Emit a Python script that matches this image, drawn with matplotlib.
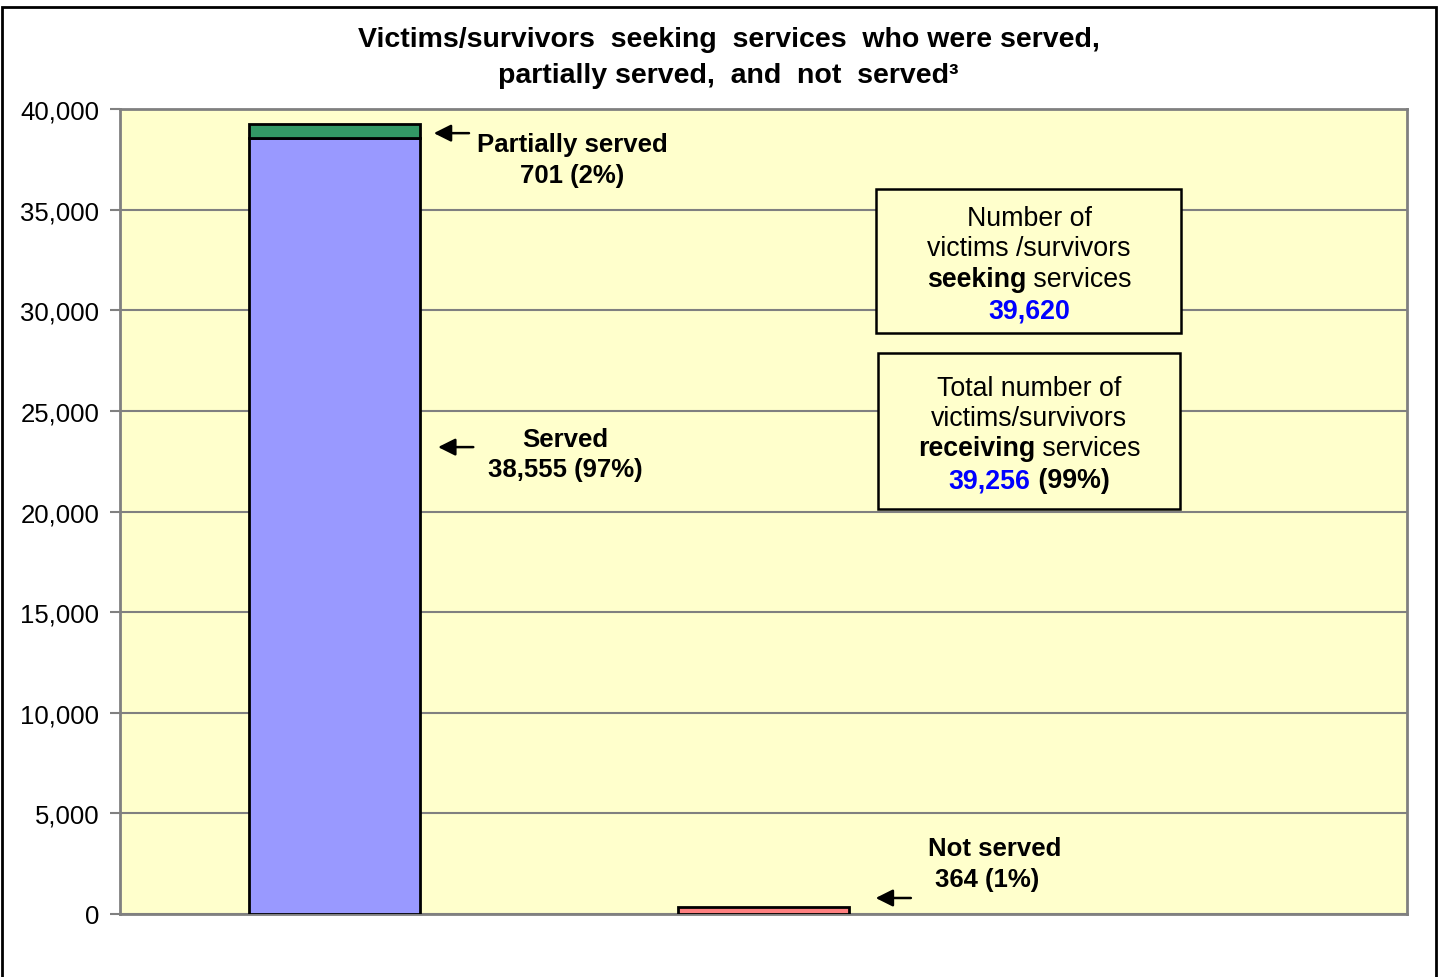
import matplotlib
matplotlib.use("Agg")
import matplotlib.pyplot as plt
from matplotlib.patches import Rectangle

plt.rcParams['font.family'] = ['Liberation Sans', 'DejaVu Sans']

# data
categories = ["Seeking", "Not served", ""]
served = [38555, 0, 0]
partially = [701, 0, 0]
not_served = [0, 364, 0]
seeking_total = 39620
receiving_total = 39256
yticks = list(range(0, 40001, 5000))

FS = 18.5
BOX_FS = 19.3
TITLE_FS = 20.5
fig = plt.figure(figsize=(14.42, 9.78), dpi=100)
ax = fig.add_axes([120 / 1442, 1 - 915 / 978, 1287 / 1442, 805 / 978])
ax.set_facecolor('#FFFFCC')

x = [0, 1, 2]
# skip the empty third slot so no zero-height bar edges get drawn
ax.bar(x[:1], served[:1], width=0.4, color='#9999FF', edgecolor='black', linewidth=2, zorder=3)
ax.bar(x[:1], partially[:1], width=0.4, bottom=served[:1], color='#339966', edgecolor='black', linewidth=2, zorder=3)
ax.bar(x[1:2], not_served[1:2], width=0.4, color='#FF8080', edgecolor='black', linewidth=2, zorder=3)

ax.set_xlim(-0.5, 2.5)
ax.set_ylim(0, 40000)
ax.set_yticks(yticks)
ax.set_yticklabels([f"{v:,}" for v in yticks], fontsize=FS)
ax.set_xticks([])
ax.tick_params(axis='y', length=7, color='#808080', width=1.5, pad=8)
ax.yaxis.grid(True, color='#808080', linewidth=1.5, zorder=0)
ax.set_axisbelow(True)
for s in ax.spines.values():
    s.set_color('#808080')
    s.set_linewidth(2)

arrow = dict(arrowstyle='-|>', color='black', lw=1.8, mutation_scale=26)

# partially served
ax.annotate('', xy=(0.225, 38800), xytext=(0.32, 38800), arrowprops=arrow)
ax.text(0.554, 38260, 'Partially served', fontsize=FS, fontweight='bold', ha='center', va='center')
ax.text(0.554, 36720, f'{partially[0]} (2%)', fontsize=FS, fontweight='bold', ha='center', va='center')

# served
ax.annotate('', xy=(0.235, 23200), xytext=(0.33, 23200), arrowprops=arrow)
ax.text(0.537, 23600, 'Served', fontsize=FS, fontweight='bold', ha='center', va='center')
ax.text(0.537, 22110, f'{served[0]:,} (97%)', fontsize=FS, fontweight='bold', ha='center', va='center')

# not served
ax.annotate('', xy=(1.255, 795), xytext=(1.35, 795), arrowprops=arrow)
ax.text(1.54, 3280, 'Not served', fontsize=FS, fontweight='bold', ha='center', va='center')
ax.text(1.521, 1740, f'{not_served[1]} (1%)', fontsize=FS, fontweight='bold', ha='center', va='center')

# boxes
ax.add_patch(Rectangle((1.262, 28870), 0.711, 36025 - 28870, facecolor='#FFFFCC',
                       edgecolor='black', linewidth=1.8, zorder=4))
ax.add_patch(Rectangle((1.266, 20124), 0.704, 27876 - 20124, facecolor='#FFFFCC',
                       edgecolor='black', linewidth=1.8, zorder=4))

fig.canvas.draw()
renderer = fig.canvas.get_renderer()


def mixed_line(xc, y, parts):
    # parts: list of (text, weight, color), centred as one line
    texts = []
    for s, w, c in parts:
        t = ax.text(0, y, s, fontsize=BOX_FS, fontweight=w, color=c, ha='left', va='center', zorder=5)
        texts.append(t)
    widths = [t.get_window_extent(renderer).width for t in texts]
    total = sum(widths)
    px_per_unit = ax.transData.transform((1, 0))[0] - ax.transData.transform((0, 0))[0]
    start = xc - total / 2 / px_per_unit
    for t, w in zip(texts, widths):
        t.set_x(start)
        start += w / px_per_unit


bx = 1.619
mixed_line(bx, 34584, [('Number of', 'normal', 'black')])
mixed_line(bx, 33093, [('victims /survivors', 'normal', 'black')])
mixed_line(bx, 31553, [('seeking', 'bold', 'black'), (' services', 'normal', 'black')])
mixed_line(bx, 30012, [(f'{seeking_total:,}', 'bold', '#0000FF')])

mixed_line(bx, 26137, [('Total number of', 'normal', 'black')])
mixed_line(bx, 24646, [('victims/survivors', 'normal', 'black')])
mixed_line(bx, 23155, [('receiving', 'bold', 'black'), (' services', 'normal', 'black')])
mixed_line(bx, 21565, [(f'{receiving_total:,}', 'bold', '#0000FF'), (' (99%)', 'bold', 'black')])

# title
fig.text(729 / 1442, 1 - 40 / 978, 'Victims/survivors  seeking  services  who were served,',
         fontsize=TITLE_FS, fontweight='bold', ha='center', va='center')
fig.text(728 / 1442, 1 - 76 / 978, 'partially served,  and  not  served\u00b3',
         fontsize=TITLE_FS, fontweight='bold', ha='center', va='center')

# outer border
fig.patches.append(Rectangle((2 / 1442, -0.05), 1434 / 1442, 1.05 - 8 / 978, transform=fig.transFigure,
                             fill=False, edgecolor='black', linewidth=2))

fig.savefig('out.png', dpi=100)
